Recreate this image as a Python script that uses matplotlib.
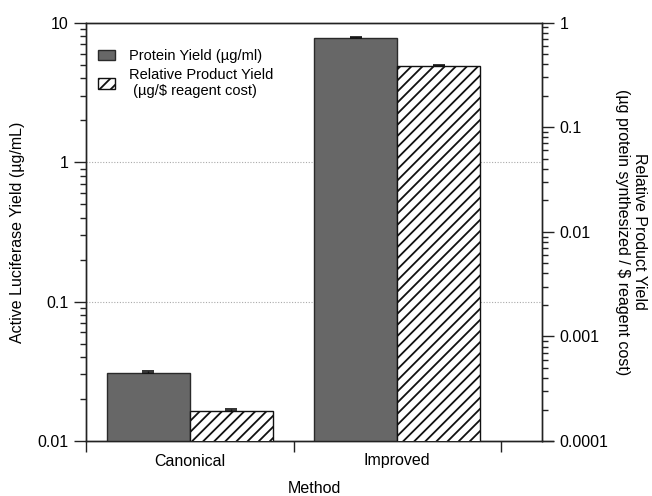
import matplotlib
matplotlib.use("Agg")
import matplotlib.pyplot as plt
from matplotlib.ticker import LogLocator, NullFormatter, FixedLocator, FixedFormatter
from matplotlib.patches import Patch
import numpy as np

plt.rcParams['font.family'] = ['Liberation Sans', 'DejaVu Sans']
plt.rcParams['hatch.linewidth'] = 1.3

categories = ["Canonical", "Improved"]
protein_yield = [0.0306, 7.73]          # µg/mL (left axis)
protein_err = [0.0012, 0.2]
relative_yield = [0.000195, 0.388]      # µg / $ (right axis)
relative_err = [0.000006, 0.008]
left_ticks = [0.01, 0.1, 1, 10]
left_ticklabels = ["0.01", "0.1", "1", "10"]
right_ticks = [0.0001, 0.001, 0.01, 0.1, 1]
right_ticklabels = ["0.0001", "0.001", "0.01", "0.1", "1"]

fig = plt.figure(figsize=(6.52, 4.96), dpi=100)
ax = fig.add_axes([86/652, 1-441/496, (542.3-86)/652, (441-22.7)/496])
ax2 = ax.twinx()

x = np.arange(len(categories))
w = 0.4
dark = '#676767'
ax.bar(x - w/2, protein_yield, width=w, color=dark, edgecolor='#2a2a2a', linewidth=1.0, zorder=3)
ax.errorbar(x - w/2, protein_yield, yerr=[np.zeros(2), protein_err], fmt='none',
            ecolor='#111111', elinewidth=1.0, capsize=4, capthick=1.2, zorder=4)

ax2.bar(x + w/2, relative_yield, width=w, color='white', edgecolor='#111111',
        hatch='///', linewidth=1.0, zorder=3)
ax2.errorbar(x + w/2, relative_yield, yerr=[np.zeros(2), relative_err], fmt='none',
             ecolor='#111111', elinewidth=1.0, capsize=4, capthick=1.2, zorder=4)

ax.set_yscale('log')
ax2.set_yscale('log')
ax.set_ylim(0.01, 10)
ax2.set_ylim(0.0001, 1)
ax.set_xlim(-0.495, 1.699)

# left y ticks
ax.yaxis.set_major_locator(FixedLocator(left_ticks))
ax.yaxis.set_major_formatter(FixedFormatter(left_ticklabels))
ax.yaxis.set_minor_locator(LogLocator(base=10, subs=np.arange(2, 10)))
ax.yaxis.set_minor_formatter(NullFormatter())
ax.tick_params(axis='y', which='major', direction='out', length=8.6, width=1.0, labelsize=11.5, pad=4, color='#222222')
ax.tick_params(axis='y', which='minor', direction='out', length=4.3, width=1.0, color='#222222')

# right y ticks
ax2.yaxis.set_major_locator(FixedLocator(right_ticks))
ax2.yaxis.set_major_formatter(FixedFormatter(right_ticklabels))
ax2.yaxis.set_minor_locator(LogLocator(base=10, subs=np.arange(2, 10)))
ax2.yaxis.set_minor_formatter(NullFormatter())
ax2.tick_params(axis='y', which='major', direction='out', length=8.6, width=1.0, labelsize=11.5, pad=4, color='#222222')
ax2.tick_params(axis='y', which='minor', direction='out', length=4.3, width=1.0, color='#222222')

# x ticks: labels at categories, ticks at boundaries
ax.set_xticks(x)
ax.set_xticklabels(categories)
ax.set_xticks([-0.5, 0.5, 1.5], minor=True)
ax.tick_params(axis='x', which='major', length=0, labelsize=11.5, pad=9)
ax.tick_params(axis='x', which='minor', direction='out', length=8, width=1.0, color='#222222')

for a in (ax, ax2):
    for s in a.spines.values():
        s.set_linewidth(1.0)
        s.set_color('#222222')

ax.plot([1.0, 1.024], [0, 0], transform=ax.transAxes, color='#222222', lw=1.0, clip_on=False)

# grid at inner left majors
ax.set_axisbelow(True)
for g in [0.1, 1]:
    ax.axhline(g, color='#aaaaaa', linestyle=(0, (1, 1.5)), linewidth=0.8, zorder=0)

fig.text(18/652, 0.5*(2*496-441-22.7)/496, "Active Luciferase Yield (µg/mL)", rotation=90,
         ha='center', va='center', fontsize=11.5)
fig.text(631/652, 0.5*(2*496-441-22.7)/496,
         "Relative Product Yield\n(µg protein synthesized / \\$ reagent cost)",
         rotation=270, ha='center', va='center', multialignment='center', fontsize=11.5,
         linespacing=1.1)
fig.text(314/652, 1-493/496, "Method", ha='center', va='baseline', fontsize=11.5)

handles = [Patch(facecolor=dark, edgecolor='#2a2a2a', linewidth=1.0),
           Patch(facecolor='white', edgecolor='#111111', hatch='///', linewidth=1.0)]
labels = ["Protein Yield (µg/ml)", "Relative Product Yield\n (µg/\\$ reagent cost)"]
ax.legend(handles, labels, loc='upper left', bbox_to_anchor=(0.005, 0.962), frameon=False,
          fontsize=10.5, handlelength=1.1, handleheight=0.7, handletextpad=1.0,
          labelspacing=0.35, borderaxespad=0.3)

fig.savefig("out.png", dpi=100)
